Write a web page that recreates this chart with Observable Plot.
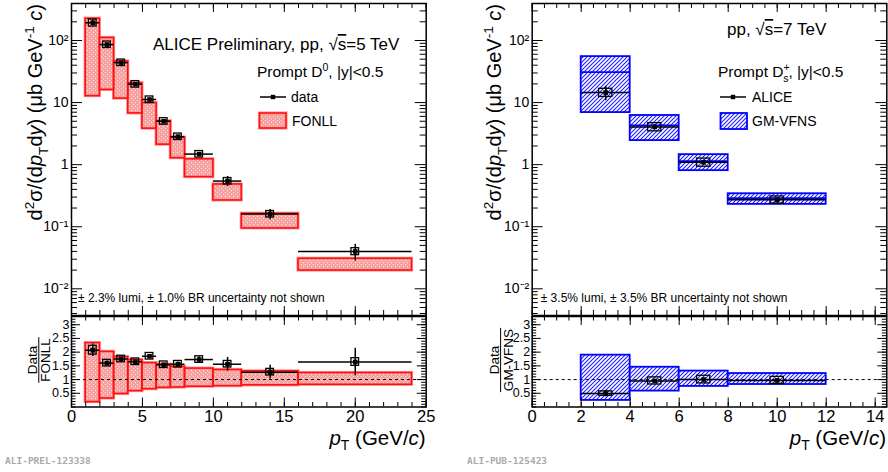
<!DOCTYPE html>
<html><head><meta charset="utf-8">
<script src="https://cdn.jsdelivr.net/npm/d3@7"></script>
<script src="https://cdn.jsdelivr.net/npm/@observablehq/plot@0.6"></script>
<style>
body{margin:0;background:#fff;}
#wrap{position:relative;width:888px;height:472px;overflow:hidden;background:#fff;}
#wrap svg{position:absolute;left:0;top:0;}
</style></head><body>
<svg width="0" height="0" style="position:absolute">
<defs>
<pattern id="fonllPat" patternUnits="userSpaceOnUse" width="4" height="4">
<rect width="4" height="4" fill="#f7a0a0"/>
<rect x="1" y="0" width="1" height="1.2" fill="#fde4e4"/>
<rect x="3" y="2" width="1" height="1.2" fill="#fde4e4"/>
</pattern>
<pattern id="gmPat" patternUnits="userSpaceOnUse" width="4" height="4">
<rect width="4" height="4" fill="#fff"/>
<path d="M-1,1 l2,-2 M0,4 l4,-4 M3,5 l2,-2" stroke="#1f1fff" stroke-width="1.1"/>
</pattern>
</defs></svg>
<div id="wrap"></div>
<script>
// ---------- DATA: D0, pp 5 TeV (left) ----------
const d0Lo    = [1, 2, 3, 4, 5, 6, 7, 8, 10, 12, 16];
const d0Hi    = [2, 3, 4, 5, 6, 7, 8, 10, 12, 16, 24];
const d0Pt    = [1.5, 2.5, 3.5, 4.5, 5.5, 6.5, 7.5, 9, 11, 14, 20];
const d0Val   = [193, 86, 44, 19.8, 11.2, 5.0, 2.83, 1.48, 0.544, 0.16, 0.040];
const d0Stat  = [20, 4, 2, 0.8, 0.4, 0.2, 0.15, 0.07, 0.1, 0.03, 0.012];
const d0Sys   = [0.13, 0.12, 0.12, 0.12, 0.12, 0.12, 0.12, 0.12, 0.12, 0.12, 0.13];
const fonllLo = [12.7, 16, 11.6, 6.7, 3.8, 2.1, 1.27, 0.63, 0.265, 0.094, 0.0197];
const fonllHi = [224, 110, 46, 20.5, 9.8, 5.0, 2.7, 1.22, 0.48, 0.162, 0.0305];
const d0Ratio     = [2.07, 1.6, 1.75, 1.65, 1.85, 1.54, 1.56, 1.73, 1.56, 1.27, 1.64];
const d0RatioStat = [0.23, 0.08, 0.06, 0.05, 0.05, 0.05, 0.08, 0.1, 0.25, 0.25, 0.5];
const d0RatioSys  = [0.16, 0.12, 0.12, 0.12, 0.12, 0.12, 0.12, 0.12, 0.12, 0.12, 0.14];
const rFonllLo = [0.18, 0.31, 0.475, 0.58, 0.65, 0.70, 0.71, 0.74, 0.76, 0.79, 0.81];
const rFonllHi = [2.33, 2.01, 1.82, 1.71, 1.6, 1.55, 1.46, 1.40, 1.35, 1.30, 1.24];

// ---------- DATA: Ds+, pp 7 TeV (right) ----------
const dsLo   = [2, 4, 6, 8];
const dsHi   = [4, 6, 8, 12];
const dsPt   = [3, 5, 7, 10];
const dsVal  = [14.5, 4.05, 1.09, 0.272];
const dsStat = [3.8, 0.35, 0.1, 0.02];
const dsSys  = [0.15, 0.15, 0.15, 0.13];
const gmLo   = [6.9, 2.44, 0.80, 0.229];
const gmHi   = [55, 6.2, 1.45, 0.34];
const gmCen  = [31, 4.3, 1.14, 0.29];
const dsRatio     = [0.49, 0.95, 1.0, 0.97];
const dsRatioStat = [0.12, 0.05, 0.05, 0.05];
const dsRatioSys  = [0.08, 0.13, 0.14, 0.13];
const rGmLo = [0.24, 0.58, 0.75, 0.82];
const rGmHi = [1.89, 1.45, 1.31, 1.22];

// ---------- tick labels ----------
const mainYTicks  = [0.01, 0.1, 1, 10, 100];
const mainYLabels = ["10\u207B\u00B2", "10\u207B\u00B9", "1", "10", "10\u00B2"];
const ratioYTicks  = [0.5, 1, 1.5, 2, 2.5, 3];
const ratioYLabels = ["0.5", "1", "1.5", "2", "2.5", "3"];
const leftXTicks   = [0, 5, 10, 15, 20, 25];
const leftXLabels  = ["0", "5", "10", "15", "20", "25"];
const rightXTicks  = [0, 2, 4, 6, 8, 10, 12, 14];
const rightXLabels = ["0", "2", "4", "6", "8", "10", "12", "14"];

// ---------- layout ----------
const W = 888, H = 472;
const FONT = '"Liberation Sans", Arial, Helvetica, sans-serif';
const LX = {x0: 71, x1: 425.7}, RX = {x0: 531.7, x1: 886.3};
const MAINY = {y0: 3, y1: 315}, RATY = {y0: 316, y1: 406.5};
const yMainDomain = [Math.pow(10, -2.43), Math.pow(10, 2.596)];
const yRatDomain = [0, 3.3];
const BOXW = 0.27;

const wrap = document.getElementById("wrap");

function seq(a, b, s) { const r = []; for (let v = a; v <= b + 1e-9; v += s) r.push(+v.toFixed(6)); return r; }
function logMinor(lo, hi) { const r = []; for (let e = -4; e <= 3; e++) for (let m = 2; m <= 9; m++) { const v = m * Math.pow(10, e); if (v > lo && v < hi) r.push(v); } return r; }

function tickMarks(fx, fy, xMaj, xMin, yMaj, yMin, len) {
  const w = fx.x1 - fx.x0, h = fy.y1 - fy.y0;
  const st = {stroke: "#000", strokeWidth: 1};
  const out = [];
  for (const [vals, l] of [[xMaj, len.xMaj], [xMin, len.xMin]]) {
    out.push(Plot.ruleX(vals, {x: d => d, insetTop: h - l, ...st}));
    out.push(Plot.ruleX(vals, {x: d => d, insetBottom: h - l, ...st}));
  }
  for (const [vals, l] of [[yMaj, len.yMaj], [yMin, len.yMin]]) {
    out.push(Plot.ruleY(vals, {y: d => d, insetRight: w - l, ...st}));
    out.push(Plot.ruleY(vals, {y: d => d, insetLeft: w - l, ...st}));
  }
  return out;
}

function makePlot(fx, fy, x, y, marks) {
  const svg = Plot.plot({
    width: W, height: H,
    marginLeft: fx.x0, marginRight: W - fx.x1,
    marginTop: fy.y0, marginBottom: H - fy.y1,
    x: {...x, axis: null}, y: {...y, axis: null},
    style: {background: "none", fontFamily: FONT, overflow: "visible"},
    marks
  });
  wrap.appendChild(svg);
  return svg;
}

function rich(svg, {x, y, rotate = 0, anchor = "start", size, parts, fill = "#000", family = FONT, weight = "normal"}) {
  const t = d3.select(svg).append("text")
    .attr("transform", `translate(${x},${y}) rotate(${rotate})`)
    .attr("text-anchor", anchor).attr("font-size", size)
    .attr("font-family", family).attr("font-weight", weight).attr("fill", fill);
  let shift = 0;
  for (const p of parts) {
    const arr = Array.isArray(p) ? p : [p];
    const txt = arr[0], o = arr[1] || {};
    const ts = t.append("tspan").text(txt);
    let target = 0, fs = size;
    if (o.sup) { target = -size * 0.42; fs = size * 0.68; }
    if (o.sub) { target = size * 0.28; fs = size * 0.68; }
    if (o.dy !== undefined) target = o.dy;
    if (target - shift !== 0) ts.attr("dy", target - shift);
    shift = target;
    if (fs !== size) ts.attr("font-size", fs);
    if (o.it) ts.attr("font-style", "italic");
    if (o.dx) ts.attr("dx", o.dx);
    if (o.over) ts.attr("text-decoration", "overline");
  }
  return t;
}

// ---------- build rows ----------
const d0 = d0Pt.map((pt, i) => ({pt, lo: d0Lo[i], hi: d0Hi[i], v: d0Val[i], stat: d0Stat[i], sys: d0Sys[i],
  tLo: fonllLo[i], tHi: fonllHi[i], r: d0Ratio[i], rStat: d0RatioStat[i], rSys: d0RatioSys[i], rtLo: rFonllLo[i], rtHi: rFonllHi[i]}));
const ds = dsPt.map((pt, i) => ({pt, lo: dsLo[i], hi: dsHi[i], v: dsVal[i], stat: dsStat[i], sys: dsSys[i],
  tLo: gmLo[i], tHi: gmHi[i], tC: gmCen[i], r: dsRatio[i], rStat: dsRatioStat[i], rSys: dsRatioSys[i], rtLo: rGmLo[i], rtHi: rGmHi[i]}));

const mainLen = {xMaj: 9, xMin: 5, yMaj: 11, yMin: 6};
const ratLen = {xMaj: 9, xMin: 4.5, yMaj: 9, yMin: 4.5};
const yMinorMain = logMinor(yMainDomain[0], yMainDomain[1]);
const ratMinor = seq(0, 3.3, 0.1);

function dataMarksMain(rows) {
  return [
    Plot.ruleY(rows, {y: "v", x1: "lo", x2: "hi", stroke: "#000", strokeWidth: 1.5}),
    Plot.ruleX(rows, {x: "pt", y1: d => d.v - d.stat, y2: d => d.v + d.stat, stroke: "#000", strokeWidth: 1.5}),
    Plot.rect(rows, {x1: d => d.pt - BOXW, x2: d => d.pt + BOXW, y1: d => d.v * (1 - d.sys), y2: d => d.v * (1 + d.sys), fill: "none", stroke: "#000", strokeWidth: 1.3}),
    Plot.dot(rows, {x: "pt", y: "v", symbol: "square", r: 2.6, fill: "#000", stroke: "none"})
  ];
}
function dataMarksRatio(rows) {
  return [
    Plot.ruleY(rows, {y: "r", x1: "lo", x2: "hi", stroke: "#000", strokeWidth: 1.5}),
    Plot.ruleX(rows, {x: "pt", y1: d => d.r - d.rStat, y2: d => d.r + d.rStat, stroke: "#000", strokeWidth: 1.5}),
    Plot.rect(rows, {x1: d => d.pt - BOXW, x2: d => d.pt + BOXW, y1: d => d.r - d.rSys, y2: d => d.r + d.rSys, fill: "none", stroke: "#000", strokeWidth: 1.3}),
    Plot.dot(rows, {x: "pt", y: "r", symbol: "square", r: 2.6, fill: "#000", stroke: "none"})
  ];
}
const yLabelMarks = (ticks, labels, size, dx) => Plot.text(ticks, {y: d => d, text: (d, i) => labels[i], frameAnchor: "left", textAnchor: "end", lineAnchor: "middle", dx, fontSize: size, fill: "#000"});
const xLabelMarks = (ticks, labels) => Plot.text(ticks, {x: d => d, text: (d, i) => labels[i], frameAnchor: "bottom", lineAnchor: "top", dy: 3.5, fontSize: 16.5, fill: "#000"});

// ---------- LEFT MAIN ----------
const svgLM = makePlot(LX, MAINY, {domain: [0, 25]}, {type: "log", domain: yMainDomain}, [
  Plot.rect(d0, {x1: "lo", x2: "hi", y1: "tLo", y2: "tHi", fill: "url(#fonllPat)", stroke: "#ff9a9a", strokeWidth: 3.2}),
  Plot.rect(d0, {x1: "lo", x2: "hi", y1: "tLo", y2: "tHi", fill: "none", stroke: "#ff1010", strokeWidth: 1.6}),
  ...dataMarksMain(d0),
  ...tickMarks(LX, MAINY, seq(0, 25, 5), seq(0, 25, 1), mainYTicks, yMinorMain, mainLen),
  Plot.frame({stroke: "#000", strokeWidth: 1.5}),
  yLabelMarks(mainYTicks, mainYLabels, 14, -3)
]);

// ---------- LEFT RATIO ----------
const svgLR = makePlot(LX, RATY, {domain: [0, 25]}, {domain: yRatDomain}, [
  Plot.rect(d0, {x1: "lo", x2: "hi", y1: "rtLo", y2: "rtHi", fill: "url(#fonllPat)", stroke: "#ff9a9a", strokeWidth: 3.2}),
  Plot.rect(d0, {x1: "lo", x2: "hi", y1: "rtLo", y2: "rtHi", fill: "none", stroke: "#ff1010", strokeWidth: 1.6}),
  Plot.ruleY([1], {stroke: "#000", strokeWidth: 1, strokeDasharray: "3,3"}),
  ...dataMarksRatio(d0),
  ...tickMarks(LX, RATY, seq(0, 25, 5), seq(0, 25, 1), ratioYTicks, ratMinor, ratLen),
  Plot.frame({stroke: "#000", strokeWidth: 1.5}),
  yLabelMarks(ratioYTicks, ratioYLabels, 12.5, -2),
  xLabelMarks(leftXTicks, leftXLabels)
]);

// ---------- RIGHT MAIN ----------
const rxDomain = [0, (RX.x1 - RX.x0) / 24.5];
const svgRM = makePlot(RX, MAINY, {domain: rxDomain}, {type: "log", domain: yMainDomain}, [
  Plot.rect(ds, {x1: "lo", x2: "hi", y1: "tLo", y2: "tHi", fill: "url(#gmPat)", stroke: "#0000ff", strokeWidth: 1.8}),
  Plot.ruleY(ds, {y: "tC", x1: "lo", x2: "hi", stroke: "#0000ff", strokeWidth: 1.8}),
  ...dataMarksMain(ds),
  ...tickMarks(RX, MAINY, seq(0, 14, 2), seq(0, 14.4, 0.5), mainYTicks, yMinorMain, mainLen),
  Plot.frame({stroke: "#000", strokeWidth: 1.5}),
  yLabelMarks(mainYTicks, mainYLabels, 14, -3)
]);

// ---------- RIGHT RATIO ----------
const svgRR = makePlot(RX, RATY, {domain: rxDomain}, {domain: yRatDomain}, [
  Plot.rect(ds, {x1: "lo", x2: "hi", y1: "rtLo", y2: "rtHi", fill: "url(#gmPat)", stroke: "#0000ff", strokeWidth: 1.8}),
  Plot.ruleY([1], {stroke: "#000", strokeWidth: 1, strokeDasharray: "3,3"}),
  ...dataMarksRatio(ds),
  ...tickMarks(RX, RATY, seq(0, 14, 2), seq(0, 14.4, 0.5), ratioYTicks, ratMinor, ratLen),
  Plot.frame({stroke: "#000", strokeWidth: 1.5}),
  yLabelMarks(ratioYTicks, ratioYLabels, 12.5, -2),
  xLabelMarks(rightXTicks, rightXLabels)
]);

// ---------- titles & annotations ----------
const yTitle = [["d"], ["2", {sup: true}], ["\u03C3/(d"], ["p", {it: true}], ["T", {sub: true}], ["d", {dy: 0}], ["y", {it: true}], [") (\u03BCb GeV"], ["-1", {sup: true}], [" ", {dy: 0}], ["c", {it: true}], [")"]];
rich(svgLM, {x: 42, y: 4, rotate: -90, anchor: "end", size: 20, parts: yTitle});
rich(svgRM, {x: 501, y: 4, rotate: -90, anchor: "end", size: 20, parts: yTitle});

const xTitle = [["p", {it: true}], ["T", {sub: true}], [" (GeV/", {dy: 0}], ["c", {it: true}], [")"]];
rich(svgLR, {x: 425.7, y: 444.5, anchor: "end", size: 20.5, parts: xTitle});
rich(svgRR, {x: 886, y: 444.5, anchor: "end", size: 20.5, parts: xTitle});

// ratio titles (fractions)
function fraction(svg, xNum, xBar, xDen, yc, num, den, size) {
  rich(svg, {x: xNum, y: yc, rotate: -90, anchor: "middle", size, parts: [num]});
  const t = rich(svg, {x: xDen, y: yc, rotate: -90, anchor: "middle", size, parts: [den]});
  const len = t.node().getComputedTextLength();
  d3.select(svg).append("line").attr("x1", xBar).attr("x2", xBar).attr("y1", yc - len / 2 - 1).attr("y2", yc + len / 2 + 1).attr("stroke", "#000").attr("stroke-width", 1);
}
fraction(svgLR, 36.8, 38.8, 50, 360, "Data", "FONLL", 13.5);
fraction(svgRR, 498.8, 500.6, 512.8, 360, "Data", "GM-VFNS", 13.5);

// left annotations
rich(svgLM, {x: 153, y: 50, size: 17, parts: [["ALICE Preliminary, pp, \u221A"], ["s", {over: true}], ["=5 TeV"]]});
rich(svgLM, {x: 257, y: 77.3, size: 15.5, parts: [["Prompt D"], ["0", {sup: true}], [", |y|<0.5", {dy: 0}]]});
rich(svgLM, {x: 78, y: 302, size: 12, parts: [["\u00B1 2.3% lumi, \u00B1 1.0% BR uncertainty not shown"]]});
{
  const g = d3.select(svgLM);
  g.append("line").attr("x1", 260).attr("x2", 286).attr("y1", 97).attr("y2", 97).attr("stroke", "#000").attr("stroke-width", 1.5);
  g.append("rect").attr("x", 270.8).attr("y", 94.8).attr("width", 4.4).attr("height", 4.4).attr("fill", "#000");
  g.append("rect").attr("x", 259.5).attr("y", 113).attr("width", 26.5).attr("height", 15).attr("fill", "url(#fonllPat)").attr("stroke", "#ff9a9a").attr("stroke-width", 3.2);
  g.append("rect").attr("x", 259.5).attr("y", 113).attr("width", 26.5).attr("height", 15).attr("fill", "none").attr("stroke", "#ff1010").attr("stroke-width", 1.6);
  rich(svgLM, {x: 291, y: 102, size: 14, parts: [["data"]]});
  rich(svgLM, {x: 292, y: 126, size: 14, parts: [["FONLL"]]});
}

// right annotations
rich(svgRM, {x: 727, y: 35, size: 17, parts: [["pp, \u221A"], ["s", {over: true}], ["=7 TeV"]]});
rich(svgRM, {x: 718, y: 77.3, size: 15.5, parts: [["Prompt D"], ["+", {sup: true}], ["s", {sub: true, dx: -6.5}], [", |y|<0.5", {dy: 0}]]});
rich(svgRM, {x: 540.7, y: 302, size: 12, parts: [["\u00B1 3.5% lumi, \u00B1 3.5% BR uncertainty not shown"]]});
{
  const g = d3.select(svgRM);
  g.append("line").attr("x1", 720).attr("x2", 746).attr("y1", 97).attr("y2", 97).attr("stroke", "#000").attr("stroke-width", 1.5);
  g.append("rect").attr("x", 730.8).attr("y", 94.8).attr("width", 4.4).attr("height", 4.4).attr("fill", "#000");
  g.append("rect").attr("x", 720.5).attr("y", 113).attr("width", 26.5).attr("height", 16).attr("fill", "url(#gmPat)").attr("stroke", "#0000ff").attr("stroke-width", 1.8);
  rich(svgRM, {x: 752, y: 102, size: 14, parts: [["ALICE"]]});
  rich(svgRM, {x: 752, y: 126, size: 14, parts: [["GM-VFNS"]]});
}

// footers
const MONO = '"DejaVu Sans Mono", "Liberation Mono", monospace';
rich(svgLR, {x: 5, y: 464, size: 9.5, fill: "#aaaaaa", family: MONO, weight: "bold", parts: [["ALI-PREL-123338"]]});
rich(svgRR, {x: 467, y: 464, size: 9.5, fill: "#aaaaaa", family: MONO, weight: "bold", parts: [["ALI-PUB-125423"]]});
</script>
</body></html>
